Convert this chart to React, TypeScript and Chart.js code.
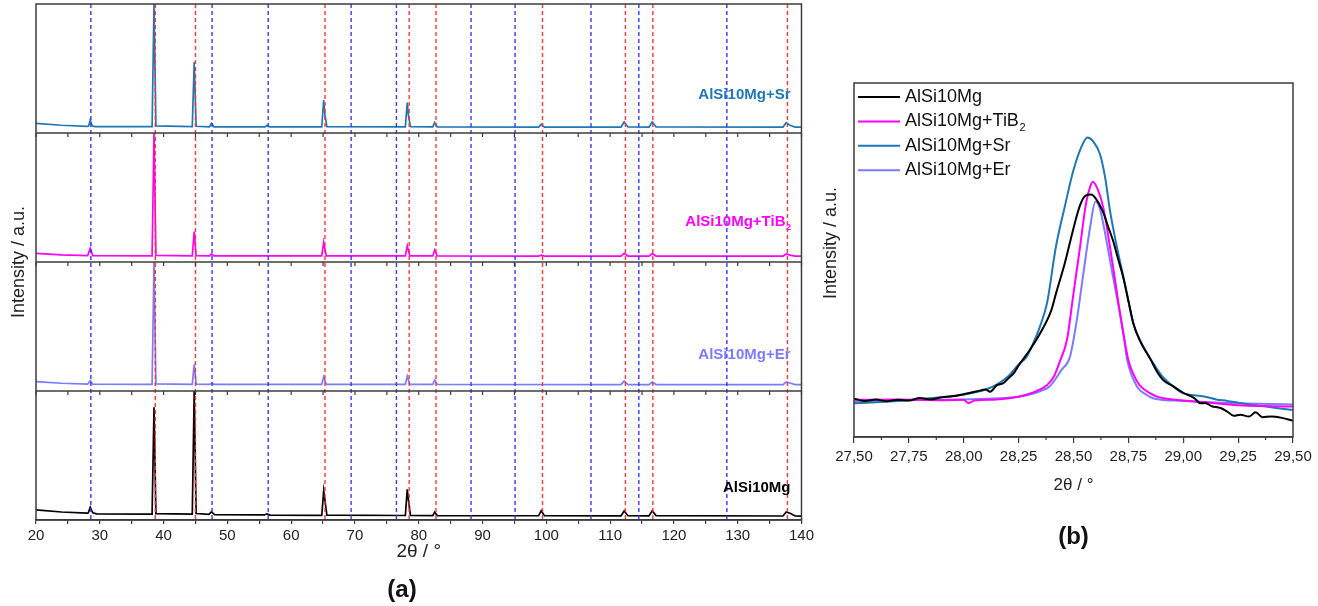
import React, { useEffect, useRef } from 'react';
import { Chart, registerables } from 'chart.js';

Chart.register(...registerables);

const FONT = '"Liberation Sans", Arial, Helvetica, sans-serif';
Chart.defaults.font.family = FONT;
Chart.defaults.color = '#222';

// ---------------- (a) full XRD patterns ----------------
const xrdMin = 20;
const xrdMax = 140;
const xrdStep = 5;
// reference reflections (dashed lines)
const alLines = [38.7, 45.0, 65.3, 78.5, 82.7, 99.4, 112.4, 116.7, 137.8];
const siLines = [28.6, 47.6, 56.4, 69.4, 76.5, 88.2, 95.1, 107.0, 114.5, 128.3];

// [2theta, intensity %]
const patternSr: number[][] = [
  [20, 7.5], [24, 6], [28, 5.2], [28.25, 5.4], [28.5, 10], [28.8, 5.6], [29.2, 5],
  [38.2, 5], [38.5, 100], [38.8, 5.5], [44.5, 5], [44.8, 55], [45.1, 5.2],
  [47.2, 4.8], [47.5, 7.5], [47.9, 4.8], [55.9, 4.7], [56.2, 5.8], [56.6, 4.7],
  [64.8, 4.7], [65.1, 25.5], [65.3, 14], [65.6, 4.9], [77.9, 4.7], [78.2, 23.5], [78.4, 13], [78.7, 4.9],
  [82.2, 4.7], [82.5, 8], [82.9, 4.8], [98.8, 4.6], [99.2, 6.8], [99.7, 4.6],
  [111.7, 4.6], [112.2, 8.5], [112.8, 4.7], [116.1, 4.6], [116.6, 8.5], [117.2, 4.8],
  [137.1, 4.6], [137.6, 8], [138.2, 6], [139, 4.6], [140, 4.5],
];
const patternTiB2: number[][] = [
  [20, 6.7], [24, 5.6], [28.1, 5], [28.5, 10.6], [28.9, 5], [38.2, 4.8], [38.5, 100], [38.8, 5.2],
  [44.5, 4.8], [44.8, 23.5], [45.1, 5], [47.2, 4.7], [47.5, 6.2], [47.9, 4.7],
  [64.8, 4.7], [65.1, 15.3], [65.5, 4.8], [77.9, 4.7], [78.2, 12.6], [78.6, 4.8],
  [82.2, 4.7], [82.5, 9.3], [82.9, 4.7], [98.8, 4.6], [99.2, 5.3], [99.7, 4.6],
  [111.7, 4.6], [112.2, 6.7], [112.8, 4.6], [116.1, 4.6], [116.6, 6.5], [117.2, 4.6],
  [137.1, 4.6], [137.6, 6.2], [138.2, 5.3], [139, 4.6], [140, 4.5],
];
const patternEr: number[][] = [
  [20, 7.2], [24, 6], [28.1, 5.4], [28.5, 8], [28.9, 5.3], [38.2, 5.2], [38.5, 100], [38.8, 5.5],
  [44.5, 5.2], [44.8, 20.7], [45.1, 5.3], [47.2, 5.1], [47.5, 5.8], [47.9, 5.1],
  [64.8, 5.1], [65.1, 11], [65.5, 5.2], [77.9, 5.1], [78.2, 11.5], [78.6, 5.2],
  [82.2, 5.1], [82.5, 8.5], [82.9, 5.1], [111.7, 5], [112.2, 7.7], [112.8, 5],
  [116.1, 5], [116.6, 7], [117.2, 5], [137.1, 5], [137.6, 7], [138.2, 6.2], [139, 5], [140, 5],
];
const patternBase: number[][] = [
  [20, 7.8], [24, 6.2], [28, 5.3], [28.2, 5.6], [28.5, 9.8], [28.9, 5.6], [29.5, 4.8],
  [38.2, 4.6], [38.5, 87.4], [38.8, 5], [44.5, 4.5], [44.8, 100], [45.1, 5],
  [47.1, 4.3], [47.5, 6.3], [48, 4.2], [55.8, 3.9], [56.2, 4.8], [56.7, 3.8],
  [64.8, 3.6], [65.1, 22.7], [65.3, 15], [65.6, 3.8], [77.9, 3.5], [78.2, 23.8], [78.4, 15], [78.7, 3.6],
  [82.2, 3.4], [82.5, 6.2], [82.9, 3.4], [98.8, 3.3], [99.2, 7.2], [99.7, 3.4],
  [111.7, 3.2], [112.2, 7], [112.8, 3.3], [116.1, 3.2], [116.6, 7.2], [117.2, 3.4],
  [137.1, 3.1], [137.6, 6.2], [138.3, 5], [139, 3.1], [140, 3],
];

// top -> bottom panels
const panelLabels = ['AlSi10Mg+Sr', 'AlSi10Mg+TiB₂', 'AlSi10Mg+Er', 'AlSi10Mg'];
const panelColors = ['#1f77b4', '#ff00ff', '#7b7bff', '#000000'];

// ---------------- (b) (111) Si-region zoom ----------------
const zoomMin = 27.5;
const zoomMax = 29.5;
const zoomStep = 0.25;
const zoomLabels = ['AlSi10Mg', 'AlSi10Mg+TiB₂', 'AlSi10Mg+Sr', 'AlSi10Mg+Er'];
const zoomColors = ['#000000', '#ff00ff', '#1f77b4', '#7b7bff'];

const zoomBase: number[][] = [
  [27.5, 10.8], [27.55, 10.2], [27.6, 10.6], [27.65, 10.1], [27.7, 10.5], [27.75, 10.3], [27.8, 11],
  [27.85, 10.6], [27.9, 11.2], [27.95, 11.5], [28.0, 12.1], [28.03, 12.5], [28.06, 12.9], [28.1, 13.4],
  [28.12, 12.8], [28.15, 14.6], [28.18, 15.2], [28.2, 16.4], [28.23, 18.2], [28.25, 20.2], [28.3, 24.5],
  [28.35, 29.5], [28.4, 36], [28.42, 40.5], [28.46, 49], [28.5, 59], [28.53, 65.5], [28.555, 68.2],
  [28.58, 68.5], [28.6, 67.5], [28.635, 63.5], [28.66, 59], [28.68, 55.5], [28.7, 51], [28.727, 45],
  [28.75, 38.5], [28.773, 32], [28.8, 27.5], [28.85, 22], [28.88, 18.5], [28.91, 16], [28.95, 14.5],
  [29.0, 12.5], [29.05, 11], [29.08, 9.5], [29.1, 9.6], [29.13, 8.7], [29.17, 8.2], [29.2, 7.2],
  [29.23, 6], [29.26, 6.3], [29.3, 5.8], [29.33, 7.0], [29.36, 5.6], [29.4, 5.8], [29.45, 5.4], [29.5, 4.6],
];
const zoomTiB2: number[][] = [
  [27.5, 10.5], [27.7, 10.6], [27.9, 10.4], [28.0, 10.5], [28.02, 9.6], [28.05, 10.3], [28.15, 10.6],
  [28.25, 11.4], [28.3, 12.2], [28.35, 13.5], [28.38, 14.7], [28.41, 17], [28.44, 21.7], [28.47, 27.4],
  [28.5, 40.6], [28.53, 53.8], [28.557, 66], [28.575, 70.5], [28.588, 72.1], [28.61, 70], [28.635, 65],
  [28.666, 53.8], [28.69, 44], [28.712, 35], [28.75, 21.7], [28.775, 17.5], [28.8, 14.7], [28.85, 12.3],
  [28.88, 11.4], [29.0, 10.3], [29.1, 9.8], [29.25, 9.0], [29.4, 8.7], [29.5, 8.6],
];
const zoomSr: number[][] = [
  [27.5, 9.5], [27.6, 9.8], [27.7, 10.2], [27.8, 10.7], [27.9, 11.2], [28.0, 12], [28.1, 13.4],
  [28.15, 14.8], [28.2, 17], [28.25, 20.5], [28.287, 22.7], [28.32, 27], [28.347, 31.2], [28.38, 38],
  [28.42, 53.8], [28.46, 65], [28.5, 75.4], [28.54, 82.5], [28.563, 84.6], [28.59, 83.5], [28.62, 80],
  [28.645, 73], [28.666, 64], [28.7, 53], [28.727, 45.3], [28.75, 38.5], [28.773, 32], [28.81, 26.5],
  [28.85, 22.2], [28.9, 17.5], [28.95, 14.5], [29.0, 12.3], [29.05, 11.8], [29.1, 11.4], [29.15, 10.6],
  [29.2, 10.2], [29.25, 9.7], [29.3, 9.2], [29.4, 8.4], [29.5, 7.6],
];
const zoomEr: number[][] = [
  [27.5, 10], [27.7, 10.4], [27.9, 10.5], [28.0, 10.6], [28.1, 10.8], [28.25, 11.4], [28.3, 12],
  [28.35, 13], [28.39, 14.2], [28.445, 18.9], [28.484, 22.7], [28.515, 33], [28.545, 46.2],
  [28.576, 59.4], [28.6, 66.5], [28.62, 64.5], [28.635, 60.4], [28.68, 45.3], [28.727, 29.3],
  [28.745, 21.7], [28.79, 14.2], [28.83, 12], [28.865, 10.9], [29.0, 10.2], [29.2, 9.6], [29.5, 9.2],
];

// ---------- helpers ----------
function drawRich(ctx: CanvasRenderingContext2D, text: string, x: number, y: number, size: number, bold: boolean, align: 'left' | 'right') {
  const weight = bold ? 'bold ' : '';
  const hasSub = text.endsWith('₂');
  const main = hasSub ? text.slice(0, -1) : text;
  ctx.font = `${weight}${size}px ${FONT}`;
  const mw = ctx.measureText(main).width;
  const subSize = Math.round(size * 0.62);
  ctx.font = `${weight}${subSize}px ${FONT}`;
  const sw = hasSub ? ctx.measureText('2').width : 0;
  const left = align === 'right' ? x - mw - sw : x;
  ctx.textAlign = 'left';
  ctx.textBaseline = 'middle';
  ctx.font = `${weight}${size}px ${FONT}`;
  ctx.fillText(main, left, y);
  if (hasSub) {
    ctx.font = `${weight}${subSize}px ${FONT}`;
    ctx.fillText('2', left + mw + 0.5, y + size * 0.38);
  }
}

function drawYTitle(ctx: CanvasRenderingContext2D, text: string, x: number, y: number) {
  ctx.save();
  ctx.translate(x, y);
  ctx.rotate(-Math.PI / 2);
  ctx.font = `18px ${FONT}`;
  ctx.fillStyle = '#222';
  ctx.textAlign = 'center';
  ctx.textBaseline = 'middle';
  ctx.fillText(text, 0, 0);
  ctx.restore();
}

const FRAME = '#3c3c3c';
const panelIds = ['y3', 'y2', 'y1', 'y0'];
const labelFrac = [0.705, 0.69, 0.72, 0.75];

const xrdDecor = {
  id: 'xrdDecor',
  afterDatasetsDraw(chart: any) {
    const { ctx, chartArea: ca, scales } = chart;
    const xs = scales.x;
    ctx.save();
    ctx.lineWidth = 1.4;
    ctx.setLineDash([4, 3]);
    const drawV = (vals: number[], color: string) => {
      ctx.strokeStyle = color;
      vals.forEach((v) => {
        const px = xs.getPixelForValue(v);
        ctx.beginPath();
        ctx.moveTo(px, ca.top);
        ctx.lineTo(px, ca.bottom);
        ctx.stroke();
      });
    };
    drawV(alLines, 'rgba(255,45,45,0.95)');
    drawV(siLines, 'rgba(45,45,255,0.95)');
    ctx.setLineDash([]);
    ctx.strokeStyle = FRAME;
    ctx.lineWidth = 1.5;
    panelIds.slice(0, 3).forEach((id) => {
      const yb = scales[id].bottom;
      ctx.beginPath();
      ctx.moveTo(ca.left, yb);
      ctx.lineTo(ca.right, yb);
      ctx.stroke();
      ctx.lineWidth = 1.2;
      xs.ticks.forEach((t: any) => {
        const px = xs.getPixelForValue(t.value);
        ctx.beginPath();
        ctx.moveTo(px, yb);
        ctx.lineTo(px, yb + 4);
        ctx.stroke();
      });
      ctx.lineWidth = 1.5;
    });
    ctx.strokeRect(ca.left, ca.top, ca.width, ca.height);
    panelIds.forEach((id, i) => {
      const s = scales[id];
      ctx.fillStyle = panelColors[i];
      drawRich(ctx, panelLabels[i], ca.right - 11, s.top + (s.bottom - s.top) * labelFrac[i], 15, true, 'right');
    });
    drawYTitle(ctx, 'Intensity / a.u.', 19, (ca.top + ca.bottom) / 2);
    ctx.restore();
  },
};

const zoomDecor = {
  id: 'zoomDecor',
  afterDatasetsDraw(chart: any) {
    const { ctx, chartArea: ca, scales } = chart;
    const xs = scales.x;
    ctx.save();
    ctx.strokeStyle = FRAME;
    ctx.lineWidth = 1.2;
    const ticks = xs.ticks;
    for (let i = 0; i < ticks.length - 1; i++) {
      const px = xs.getPixelForValue((ticks[i].value + ticks[i + 1].value) / 2);
      ctx.beginPath();
      ctx.moveTo(px, ca.bottom);
      ctx.lineTo(px, ca.bottom + 3);
      ctx.stroke();
    }
    ctx.lineWidth = 1.5;
    ctx.strokeRect(ca.left, ca.top, ca.width, ca.height);
    chart.data.datasets.forEach((ds: any, i: number) => {
      const y = ca.top + 14 + i * 24.4;
      ctx.strokeStyle = ds.borderColor;
      ctx.lineWidth = 2;
      ctx.beginPath();
      ctx.moveTo(ca.left + 4, y);
      ctx.lineTo(ca.left + 46, y);
      ctx.stroke();
      ctx.fillStyle = '#111';
      drawRich(ctx, ds.label, ca.left + 51, y, 18, false, 'left');
    });
    drawYTitle(ctx, 'Intensity / a.u.', ca.left - 23, ca.top + ca.height * 0.452);
    ctx.restore();
  },
};

function stackedY() {
  return {
    type: 'linear' as const,
    stack: 'xrd',
    stackWeight: 1,
    min: 0,
    max: 100,
    display: true,
    ticks: { display: false },
    grid: { display: false, drawTicks: false },
    border: { display: false },
    afterFit: (s: any) => { s.width = 36; },
  };
}

export default function App() {
  const leftRef = useRef<HTMLCanvasElement>(null);
  const rightRef = useRef<HTMLCanvasElement>(null);

  useEffect(() => {
    const left = new Chart(leftRef.current as HTMLCanvasElement, {
      type: 'line',
      data: {
        datasets: [
          { label: panelLabels[0], data: patternSr, yAxisID: 'y3', borderColor: panelColors[0] },
          { label: panelLabels[1], data: patternTiB2, yAxisID: 'y2', borderColor: panelColors[1] },
          { label: panelLabels[2], data: patternEr, yAxisID: 'y1', borderColor: panelColors[2] },
          { label: panelLabels[3], data: patternBase, yAxisID: 'y0', borderColor: panelColors[3] },
        ].map((d) => ({ ...d, borderWidth: 1.7, pointRadius: 0, tension: 0, fill: false })) as any,
      },
      options: {
        responsive: false,
        animation: false,
        events: [],
        layout: { padding: { left: 0, right: 14, top: 4, bottom: 0 } },
        plugins: {
          legend: { display: false },
          tooltip: { enabled: false },
          title: {
            display: true,
            position: 'bottom',
            text: '(a)',
            color: '#111',
            font: { size: 24, weight: 'bold' },
            padding: { top: 14.6, bottom: 1.6 },
          },
        },
        scales: {
          x: {
            type: 'linear',
            min: xrdMin,
            max: xrdMax,
            ticks: {
              stepSize: xrdStep,
              autoSkip: false,
              maxRotation: 0,
              padding: 4,
              font: { size: 15, lineHeight: 1 },
              color: '#222',
              callback: (v: any) => (Number(v) % 10 === 0 ? String(v) : ''),
            },
            grid: { display: true, drawOnChartArea: false, drawTicks: true, tickLength: 4, color: FRAME, lineWidth: 1.2 },
            border: { display: true, color: FRAME, width: 1.5 },
            title: { display: true, text: '2θ / °', font: { size: 19, lineHeight: 1 }, padding: 0, color: '#222' },
            afterFit: (s: any) => { s.height = 41; },
          },
          y0: stackedY(),
          y1: stackedY(),
          y2: stackedY(),
          y3: stackedY(),
        } as any,
      },
      plugins: [xrdDecor],
    });

    const right = new Chart(rightRef.current as HTMLCanvasElement, {
      type: 'line',
      data: {
        datasets: [
          { label: zoomLabels[0], data: zoomBase, borderColor: zoomColors[0] },
          { label: zoomLabels[1], data: zoomTiB2, borderColor: zoomColors[1] },
          { label: zoomLabels[2], data: zoomSr, borderColor: zoomColors[2] },
          { label: zoomLabels[3], data: zoomEr, borderColor: zoomColors[3] },
        ].map((d) => ({ ...d, borderWidth: 2, pointRadius: 0, cubicInterpolationMode: 'monotone', fill: false })) as any,
      },
      options: {
        responsive: false,
        animation: false,
        events: [],
        layout: { padding: { left: 48, right: 25, top: 83, bottom: 0 } },
        plugins: {
          legend: { display: false },
          tooltip: { enabled: false },
          title: {
            display: true,
            position: 'bottom',
            fullSize: false,
            text: '(b)',
            color: '#111',
            font: { size: 24, weight: 'bold' },
            padding: { top: 29.1, bottom: 54.6 },
          },
        },
        scales: {
          x: {
            type: 'linear',
            min: zoomMin,
            max: zoomMax,
            ticks: {
              stepSize: zoomStep,
              autoSkip: false,
              maxRotation: 0,
              padding: 6,
              font: { size: 15, lineHeight: 1 },
              color: '#222',
              callback: (v: any) => Number(v).toFixed(2).replace('.', ','),
            },
            grid: { display: true, drawOnChartArea: false, drawTicks: true, tickLength: 6, color: FRAME, lineWidth: 1.2 },
            border: { display: true, color: FRAME, width: 1.5 },
            title: { display: true, text: '2θ / °', font: { size: 17, lineHeight: 1 }, padding: 0, color: '#222' },
            afterFit: (s: any) => { s.height = 56.5; },
          },
          y: {
            type: 'linear',
            min: 0,
            max: 100,
            display: false,
          },
        } as any,
      },
      plugins: [zoomDecor],
    });

    return () => {
      left.destroy();
      right.destroy();
    };
  }, []);

  return (
    <div style={{ position: 'absolute', left: 0, top: 0, width: 1318, height: 606, background: '#fff' }}>
      <canvas ref={leftRef} width={818} height={606} style={{ position: 'absolute', left: 0, top: 0, width: 818, height: 606 }} />
      <canvas ref={rightRef} width={512} height={606} style={{ position: 'absolute', left: 806, top: 0, width: 512, height: 606 }} />
    </div>
  );
}
